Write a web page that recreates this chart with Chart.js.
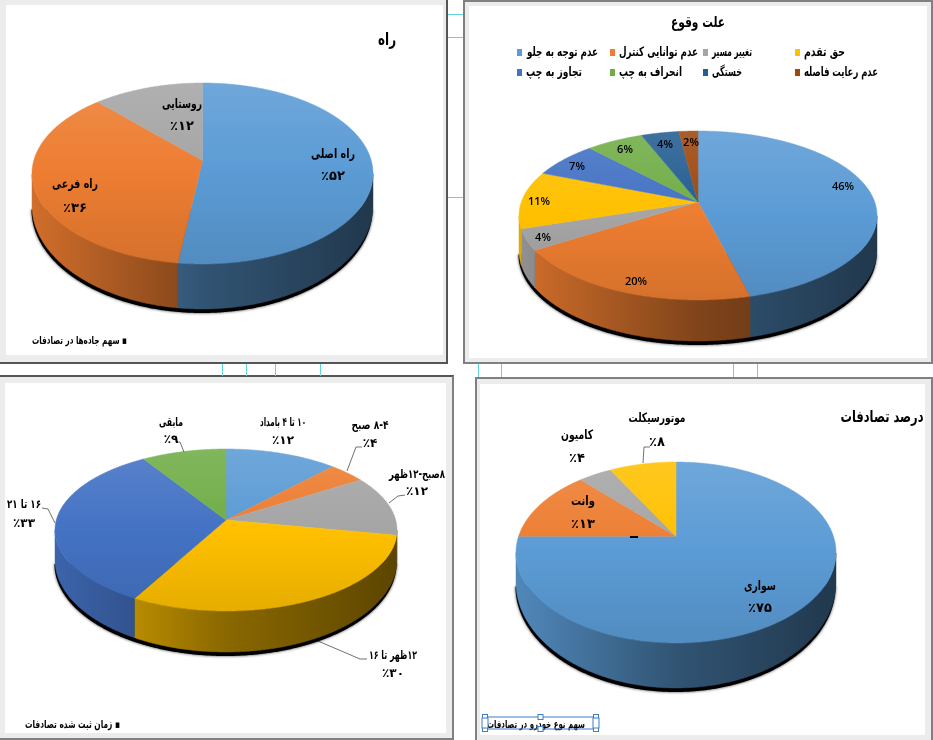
<!DOCTYPE html>
<html lang="fa">
<head>
<meta charset="utf-8">
<title>سهم تصادفات</title>
<script src="https://cdn.jsdelivr.net/npm/chart.js@4"></script>
<style>
  html, body { margin: 0; background: #fff; }
  body { position: relative; width: 933px; height: 740px; overflow: hidden; }
  .panel { position: absolute; background: #ececec; box-sizing: border-box; }
  .panel canvas { position: absolute; background: #fff; }
  .guide { position: absolute; background: #62d4dc; }
</style>
</head>
<body>
<script>
// data
const roadLabels = ["راه اصلی", "راه فرعی", "روستایی"];
const roadValues = [52, 36, 12];

const causeLabels = ["عدم توجه به جلو", "عدم توانایی کنترل", "تغییر مسیر", "حق تقدم", "تجاوز به چپ", "انحراف به چپ", "خستگی", "عدم رعایت فاصله"];
const causeValues = [46, 20, 4, 11, 7, 6, 4, 2];

const timeLabels = ["۱۰ تا ۴ بامداد", "۸-۴ صبح", "۸صبح-۱۲ظهر", "۱۲ظهر تا ۱۶", "۱۶ تا ۲۱", "مابقی"];
const timeValues = [12, 4, 12, 30, 33, 9];

const vehicleLabels = ["سواری", "وانت", "کامیون", "موتورسیکلت"];
const vehicleValues = [75, 13, 4, 8];

const officeColors = ["#5b9bd5", "#ed7d31", "#a5a5a5", "#ffc000", "#4472c4", "#70ad47", "#255e91", "#9e480e"];

const FA_FONT = "'DejaVu Sans'";

function faPercent(n) {
  return "٪" + String(n).replace(/\d/g, d => "۰۱۲۳۴۵۶۷۸۹"[d]);
}

function shade(hex, f) {
  const n = parseInt(hex.slice(1), 16);
  let c = [n >> 16, (n >> 8) & 255, n & 255];
  c = c.map(v => Math.round(f > 1 ? v + (255 - v) * (f - 1) : v * f));
  return "rgb(" + c.join(",") + ")";
}

// a perspective view of the round pie: the rim stays an ellipse, the centre moves up
function project(angle, box, tilt) {
  const u = Math.cos(angle), v = Math.sin(angle);
  const d = 1 + tilt * v;
  const X = u * Math.sqrt(1 - tilt * tilt) / d;
  const Y = (v + tilt) / d;
  return { x: box.cx + box.rx * X, y: box.cy + box.ry * Y, Y: Y };
}

function rimPoints(start, end, box, tilt) {
  const pts = [];
  const steps = Math.max(2, Math.ceil((end - start) / 0.008));
  for (let i = 0; i <= steps; i++) pts.push(project(start + (end - start) * i / steps, box, tilt));
  return pts;
}

const pie3d = {
  id: "pie3d",
  beforeDatasetDraw(chart) {
    const o = chart.options.plugins.pie3d;
    const area = chart.chartArea;
    const ctx = chart.ctx;
    const box = {
      cx: (area.left + area.right) / 2,
      cy: (area.top + area.bottom) / 2,
      rx: area.width / 2,
      ry: area.height / 2,
    };
    const lowY = p => box.cy + o.sideDepth + (box.ry + o.frontDepth - o.sideDepth) * p.Y;
    const arcs = chart.getDatasetMeta(0).data;
    const colors = chart.data.datasets[0].backgroundColor;

    // black shadow under the body
    ctx.save();
    ctx.shadowColor = "rgba(0,0,0,0.8)";
    ctx.shadowBlur = 3;
    ctx.fillStyle = "#000";
    ctx.beginPath();
    rimPoints(0, Math.PI * 2, box, 0).filter(p => p.Y >= 0).forEach((p, i) => {
      ctx[i ? "lineTo" : "moveTo"](p.x - 0.5, lowY(p) + 4);
    });
    ctx.closePath();
    ctx.fill();
    ctx.restore();

    // side wall
    arcs.forEach((arc, i) => {
      const pts = rimPoints(arc.startAngle, arc.endAngle, box, o.tilt).filter(p => p.Y >= 0);
      if (pts.length < 2) return;
      const g = ctx.createLinearGradient(area.left, 0, area.right, 0);
      g.addColorStop(0, shade(colors[i], 0.88));
      g.addColorStop(0.5, shade(colors[i], 0.54));
      g.addColorStop(1, shade(colors[i], 0.36));
      ctx.fillStyle = g;
      ctx.strokeStyle = g;
      ctx.lineWidth = 0.5;
      ctx.beginPath();
      pts.forEach((p, k) => ctx[k ? "lineTo" : "moveTo"](p.x, p.y));
      pts.slice().reverse().forEach(p => ctx.lineTo(p.x, lowY(p)));
      ctx.closePath();
      ctx.fill();
      ctx.stroke();
    });

    // top face
    const apex = { x: box.cx, y: box.cy + box.ry * o.tilt };
    arcs.forEach((arc, i) => {
      const g = ctx.createLinearGradient(0, area.top, 0, area.bottom);
      g.addColorStop(0, shade(colors[i], 1.12));
      g.addColorStop(0.5, shade(colors[i], 1));
      g.addColorStop(1, shade(colors[i], 0.9));
      ctx.fillStyle = g;
      ctx.strokeStyle = g;
      ctx.lineWidth = 0.5;
      ctx.beginPath();
      ctx.moveTo(apex.x, apex.y);
      rimPoints(arc.startAngle, arc.endAngle, box, o.tilt).forEach(p => ctx.lineTo(p.x, p.y));
      ctx.closePath();
      ctx.fill();
      ctx.stroke();
    });
    return false;
  },
};

// titles, slice labels, leader lines and the small legend, page coordinates
const pageText = {
  id: "pageText",
  afterDraw(chart) {
    const o = chart.options.plugins.pageText;
    const ctx = chart.ctx;
    const labels = chart.data.labels;
    const values = chart.data.datasets[0].data;
    ctx.save();
    ctx.translate(-o.originX, -o.originY);
    ctx.textBaseline = "middle";
    ctx.direction = "rtl";
    ctx.fillStyle = "#000";

    ctx.strokeStyle = "#333";
    ctx.lineWidth = 0.7;
    (o.leaders || []).forEach(line => {
      ctx.beginPath();
      line.forEach((p, i) => ctx[i ? "lineTo" : "moveTo"](p[0], p[1]));
      ctx.stroke();
    });

    ctx.textAlign = "center";
    (o.sliceLabels || []).forEach((pos, i) => {
      ctx.font = "bold " + o.labelSize + "px " + FA_FONT;
      ctx.fillText(labels[i], pos[0], pos[1], pos[3]);
      ctx.fillText(faPercent(values[i]), pos[0], pos[2]);
    });
    (o.percentLabels || []).forEach((pos, i) => {
      ctx.direction = "ltr";
      ctx.font = "600 11px 'Open Sans'";
      ctx.fillText(values[i] + "%", pos[0], pos[1]);
      ctx.direction = "rtl";
    });
    (o.legend || []).forEach((pos, i) => {
      ctx.fillStyle = chart.data.datasets[0].backgroundColor[i];
      ctx.fillRect(pos[0], pos[1] - 4, 5, 7);
      ctx.fillStyle = "#000";
      ctx.textAlign = "left";
      ctx.font = "bold 13px " + FA_FONT;
      ctx.fillText(labels[i], pos[2], pos[1], pos[3]);
    });
    ctx.textAlign = "center";
    (o.titles || []).forEach(t => {
      ctx.font = "bold " + t.size + "px " + FA_FONT;
      ctx.fillText(t.text, t.x, t.y, t.width);
    });
    if (o.note) {
      ctx.textAlign = "right";
      ctx.font = "bold 11px " + FA_FONT;
      ctx.fillText(o.note.text, o.note.x, o.note.y, o.note.width);
    }
    ctx.restore();
  },
};

// the text box handles left on the last chart
const selectionBox = {
  id: "selectionBox",
  afterDraw(chart) {
    const o = chart.options.plugins.selectionBox;
    if (!o || !o.rect) return;
    const ctx = chart.ctx;
    const r = o.rect;
    ctx.save();
    ctx.translate(-o.originX, -o.originY);
    ctx.fillStyle = "#000";
    ctx.fillRect(630, 536, 8, 2);
    ctx.strokeStyle = "#3f7fc4";
    ctx.lineWidth = 1;
    ctx.strokeRect(r[0], r[1], r[2], r[3]);
    ctx.fillStyle = "#fff";
    const midX = r[0] + r[2] / 2;
    [[r[0], r[1]], [midX, r[1]], [r[0] + r[2], r[1]], [r[0], r[1] + r[3]], [midX, r[1] + r[3]], [r[0] + r[2], r[1] + r[3]]].forEach(p => {
      ctx.fillRect(p[0] - 2.5, p[1] - 2.5, 5, 5);
      ctx.strokeRect(p[0] - 2.5, p[1] - 2.5, 5, 5);
    });
    [r[0], r[0] + r[2]].forEach(x => {
      ctx.fillRect(x - 3, r[1] + 1, 6, r[3] - 2);
      ctx.strokeRect(x - 3, r[1] + 1, 6, r[3] - 2);
    });
    ctx.restore();
  },
};

function addPieChart(cfg) {
  const panel = document.createElement("div");
  panel.className = "panel";
  panel.style.cssText = "left:" + cfg.panel[0] + "px;top:" + cfg.panel[1] + "px;width:" + cfg.panel[2] + "px;height:" + cfg.panel[3] + "px;" + cfg.border;
  const canvas = document.createElement("canvas");
  const w = cfg.white;
  canvas.width = w[2];
  canvas.height = w[3];
  const borderLeft = parseInt(cfg.borderLeft || 0);
  const borderTop = parseInt(cfg.borderTop || 0);
  canvas.style.left = (w[0] - cfg.panel[0] - borderLeft) + "px";
  canvas.style.top = (w[1] - cfg.panel[1] - borderTop) + "px";
  panel.appendChild(canvas);
  document.body.appendChild(panel);

  const e = cfg.ellipse; // left, top, right, bottom of the top face on the page
  new Chart(canvas, {
    type: "pie",
    data: {
      labels: cfg.labels,
      datasets: [{ data: cfg.values, backgroundColor: officeColors.slice(0, cfg.values.length), borderWidth: 0 }],
    },
    options: {
      responsive: false,
      animation: false,
      layout: {
        padding: { left: e[0] - w[0], top: e[1] - w[1], right: w[0] + w[2] - e[2], bottom: w[1] + w[3] - e[3] },
      },
      plugins: {
        legend: { display: false },
        tooltip: { enabled: false },
        pie3d: { tilt: cfg.tilt, sideDepth: cfg.depth[0], frontDepth: cfg.depth[1] },
        pageText: Object.assign({ originX: w[0], originY: w[1] }, cfg.text),
        selectionBox: { originX: w[0], originY: w[1], rect: cfg.selection },
      },
    },
    plugins: [pie3d, pageText, selectionBox],
  });
}

addPieChart({
  panel: [0, 0, 448, 364],
  border: "border-right:2px solid #555;border-bottom:2px solid #555;",
  white: [6, 5, 437, 350],
  ellipse: [32, 83, 373, 264],
  tilt: -0.144,
  depth: [32, 45],
  labels: roadLabels,
  values: roadValues,
  text: {
    labelSize: 13,
    sliceLabels: [[333, 155, 177, 44], [75, 185, 209, 46], [182, 105, 127, 40]],
    titles: [{ text: "راه", x: 387, y: 41, size: 17, width: 18 }],
    note: { text: "▪ سهم جاده‌ها در تصادفات", x: 127, y: 341, width: 95 },
  },
});

addPieChart({
  panel: [463, 0, 470, 364],
  border: "border:2px solid #808080;",
  borderLeft: 2, borderTop: 2,
  white: [469, 6, 458, 352],
  ellipse: [519, 131, 877, 300],
  tilt: -0.16,
  depth: [35, 41],
  labels: causeLabels,
  values: causeValues,
  text: {
    percentLabels: [[843, 187], [636, 282], [543, 238], [539, 202], [577, 167], [625, 150], [665, 145], [691, 143]],
    legend: [[517, 53, 527, 71], [610, 53, 619, 79], [703, 53, 712, 40], [795, 53, 804, 41], [517, 73, 526, 56], [610, 73, 619, 63], [703, 73, 712, 30], [795, 73, 804, 74]],
    titles: [{ text: "علت وقوع", x: 698, y: 23, size: 15, width: 54 }],
  },
});

addPieChart({
  panel: [0, 375, 454, 365],
  border: "border-top:2px solid #555;border-right:2px solid #808080;border-bottom:2px solid #808080;",
  borderTop: 2,
  white: [5, 383, 441, 350],
  ellipse: [55, 449, 397, 611],
  tilt: -0.123,
  depth: [30, 41],
  labels: timeLabels,
  values: timeValues,
  text: {
    labelSize: 12,
    sliceLabels: [[283, 423, 441, 46], [370, 426, 444, 37], [417, 475, 492, 56], [393, 656, 674, 48], [24, 505, 524, 34], [171, 423, 440, 24]],
    leaders: [
      [[176, 442], [180, 442], [184, 452]],
      [[362, 447], [356, 447], [347, 471]],
      [[405, 495], [398, 496], [389, 503]],
      [[367, 659], [360, 659], [318, 641]],
      [[42, 508], [48, 509], [55, 523]],
    ],
    note: { text: "▪ زمان ثبت شده تصادفات", x: 120, y: 725, width: 95 },
  },
});

addPieChart({
  panel: [475, 377, 458, 363],
  border: "border:2px solid #808080;border-bottom:0;",
  borderLeft: 2, borderTop: 2,
  white: [480, 384, 445, 351],
  ellipse: [516, 462, 836, 643],
  tilt: -0.18,
  depth: [30, 45],
  labels: vehicleLabels,
  values: vehicleValues,
  selection: [485, 717, 111, 12],
  text: {
    labelSize: 13,
    sliceLabels: [[760, 587, 609, 32], [583, 502, 525, 24], [577, 436, 459, 32], [657, 419, 443, 57]],
    leaders: [[[650, 447], [644, 447], [643, 463]]],
    titles: [{ text: "درصد تصادفات", x: 882, y: 418, size: 16, width: 83 }],
    note: { text: "سهم نوع خودرو در تصادفات", x: 585, y: 725, width: 98 },
  },
});

// stray guide lines of the page layout behind the charts
[[448, 14, 15, 1], [448, 37, 15, 1], [448, 197, 15, 1],
 [222, 364, 1, 12], [246, 364, 1, 12], [275, 364, 1, 12], [320, 364, 1, 12],
 [478, 364, 1, 13], [501, 364, 1, 13], [733, 364, 1, 13], [757, 364, 1, 13]].forEach(g => {
  const d = document.createElement("div");
  d.className = "guide";
  d.style.cssText = "left:" + g[0] + "px;top:" + g[1] + "px;width:" + g[2] + "px;height:" + g[3] + "px;";
  document.body.appendChild(d);
});
</script>
</body>
</html>
